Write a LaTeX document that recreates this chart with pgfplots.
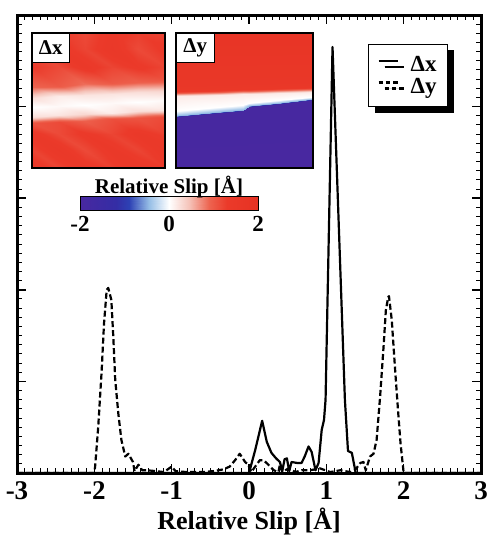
\documentclass[border=0pt]{standalone}
\usepackage{pgfplots}
\pgfplotsset{compat=1.18}
\usepackage{fontspec}
\setmainfont{Liberation Serif}
\usetikzlibrary{shadows}
\pgfplotsset{colormap={slip}{
 rgb255(0pt)=(72,40,160);
 rgb255(80pt)=(52,45,165);
 rgb255(110pt)=(45,65,180);
 rgb255(155pt)=(150,190,230);
 rgb255(200pt)=(255,255,255);
 rgb255(245pt)=(245,195,185);
 rgb255(290pt)=(237,100,80);
 rgb255(330pt)=(235,58,42);
 rgb255(400pt)=(230,50,35)}}
\newcommand{\tickf}{\bfseries\fontsize{27}{30}\selectfont}
\newcommand{\bigf}{\bfseries\fontsize{26}{29}\selectfont}
\newcommand{\legf}{\bfseries\fontsize{23}{25}\selectfont}
\newcommand{\medf}{\bfseries\fontsize{21}{24}\selectfont}
\newcommand{\cbf}{\bfseries\fontsize{23}{25}\selectfont}
\begin{document}
\begin{tikzpicture}
\useasboundingbox (-17pt,-62pt) rectangle (470pt,473pt);
\begin{axis}[
  at={(0pt,0pt)}, anchor=south west,
  scale only axis, width=464pt, height=458pt,
  xmin=-3, xmax=3, ymin=0, ymax=5,
  xtick={-3,-2,-1,0,1,2,3}, xticklabels={-3,-2,-1,0,1,2,3},
  ytick={0,1,2,3,4,5}, yticklabels={},
  minor x tick num=9, minor y tick num=9,
  tick align=inside,
  major tick length=9pt, minor tick length=5pt,
  major tick style={line width=1.5pt, black},
  minor tick style={line width=1pt, black},
  axis line style={line width=3pt},
  tick label style={font=\tickf},
  xticklabel style={yshift=-5pt},
  xlabel={Relative Slip [Å]},
  xlabel style={font=\bigf, yshift=-1pt},
  legend style={at={(0.7565,0.9367)}, anchor=north west, draw=black, line width=1pt,
    fill=white, font=\legf, inner xsep=9pt, inner ysep=10pt,
    drop shadow={shadow xshift=6pt, shadow yshift=-6pt, opacity=1, fill=black},
    nodes={inner xsep=2pt, inner ysep=2pt},
    /tikz/every odd column/.append style={column sep=10pt},
    row sep=1pt},
  legend cell align=left,
  legend image code/.code={\draw[#1] (0pt,4pt) -- (19pt,4pt);},
]
\addplot[black, line width=2.2pt, line join=round] coordinates {
(-3,0) (0.0,0.0) (0.08,0.25) (0.17,0.57) (0.23,0.34) (0.29,0.22) (0.35,0.16)
(0.40,0.12) (0.43,0.02) (0.46,0.15) (0.49,0.16) (0.52,0.02) (0.55,0.12)
(0.62,0.11) (0.68,0.11) (0.72,0.18) (0.77,0.29) (0.81,0.23) (0.86,0.03)
(0.90,0.11) (0.94,0.47) (0.97,0.58) (0.99,0.80) (1.08,4.65) (1.24,0.80)
(1.28,0.24) (1.33,0.22) (1.38,0.0) (3,0)};
\addlegendentry{Δx}
\addplot[black, line width=2.2pt, dash pattern=on 6pt off 3pt, line join=round,
  legend image post style={dash pattern=on 4.5pt off 2.8pt}] coordinates {
(-3,0) (-2.0,0) (-1.99,0.07) (-1.95,0.5) (-1.905,1.12) (-1.875,1.63) (-1.84,2.0)
(-1.82,2.02) (-1.78,1.89) (-1.755,1.49) (-1.73,1.02) (-1.69,0.65) (-1.65,0.36)
(-1.60,0.18) (-1.56,0.21) (-1.50,0.12) (-1.48,0.02) (-1.43,0.09) (-1.38,0.03)
(-1.32,0.03) (-1.2,0.02) (-1.1,0.01) (-1.0,0.07) (-0.95,0.02) (-0.8,0.01)
(-0.6,0.01) (-0.46,0.02) (-0.33,0.04) (-0.25,0.07) (-0.18,0.14) (-0.12,0.21)
(-0.05,0.12) (-0.01,0.09) (0.03,0.01) (0.08,0.07) (0.14,0.14) (0.19,0.14)
(0.25,0.09) (0.32,0.03) (0.38,0.01) (0.40,0.09) (0.43,0.01) (0.51,0.05)
(0.6,0.01) (0.68,0.03) (0.79,0.03) (0.92,0.05) (1.05,0.01) (1.18,0.03)
(1.31,0.01) (1.37,0.03) (1.44,0.11) (1.48,0.12) (1.51,0.03) (1.565,0.18)
(1.61,0.21) (1.65,0.36) (1.695,0.83) (1.74,1.38) (1.77,1.78) (1.80,1.92)
(1.81,1.93) (1.846,1.67) (1.89,1.12) (1.93,0.65) (1.96,0.32) (2.0,0.0) (3,0)};
\addlegendentry{Δy}
\end{axis}
% inset Delta x
\begin{axis}[at={(15pt,305pt)}, anchor=south west, scale only axis,
  width=133pt, height=135pt, xmin=0, xmax=1, ymin=0, ymax=1,
  xtick=\empty, ytick=\empty, axis line style={line width=1.5pt},
  colormap name=slip, point meta min=-2, point meta max=2, axis on top]
\addplot[surf, shader=interp, mesh/cols=6, point meta=explicit] table[x=x, y=y, meta=c] {
x y c
0 0 1.45
0.2 0 1.2
0.4 0 1.4
0.6 0 1.25
0.8 0 1.45
1 0 1.3
0 0.13 1.2
0.2 0.13 1.45
0.4 0.13 1.15
0.6 0.13 1.4
0.8 0.13 1.2
1 0.13 1.45
0 0.25 1.4
0.2 0.25 1.15
0.4 0.25 1.35
0.6 0.25 1.2
0.8 0.25 1.4
1 0.25 1.25
0 0.33 1.05
0.2 0.34 1.15
0.4 0.35 0.95
0.6 0.36 1.1
0.8 0.37 1.05
1 0.38 1.15
0 0.38 0.25
0.2 0.39 0.2
0.4 0.40 0.3
0.6 0.41 0.15
0.8 0.42 0.25
1 0.43 0.2
0 0.45 0.0
0.2 0.46 0.05
0.4 0.47 0.0
0.6 0.48 0.05
0.8 0.49 0.0
1 0.50 0.05
0 0.52 0.25
0.2 0.53 0.15
0.4 0.54 0.2
0.6 0.55 0.2
0.8 0.56 0.25
1 0.57 0.3
0 0.60 0.9
0.2 0.61 1.0
0.4 0.62 0.85
0.6 0.63 1.0
0.8 0.64 0.95
1 0.65 1.05
0 0.75 1.3
0.2 0.75 1.15
0.4 0.75 1.4
0.6 0.75 1.2
0.8 0.75 1.35
1 0.75 1.2
0 0.88 1.15
0.2 0.88 1.4
0.4 0.88 1.2
0.6 0.88 1.45
0.8 0.88 1.15
1 0.88 1.35
0 1 1.4
0.2 1 1.3
0.4 1 1.15
0.6 1 1.4
0.8 1 1.25
1 1 1.2
};
\node[anchor=north west, fill=white, draw=black, line width=0.5pt, font=\medf,
  inner sep=2pt, minimum height=29pt, minimum width=37pt] at (rel axis cs:0,1) {Δx};
\end{axis}
% inset Delta y
\begin{axis}[at={(159pt,305pt)}, anchor=south west, scale only axis,
  width=137pt, height=135pt, xmin=0, xmax=1, ymin=0, ymax=1,
  xtick=\empty, ytick=\empty, axis line style={line width=1.5pt},
  colormap name=slip, point meta min=-2, point meta max=2, axis on top]
\addplot[surf, shader=interp, mesh/cols=6, point meta=explicit] table[x=x, y=y, meta=c] {
x y c
0 0 -2
0.32 0 -2
0.49 0 -2
0.53 0 -2
0.76 0 -2
1 0 -2
0 0.38 -1.95
0.32 0.41 -1.95
0.49 0.425 -1.95
0.53 0.45 -1.95
0.76 0.474 -1.95
1 0.50 -1.95
0 0.388 -0.5
0.32 0.418 -0.5
0.49 0.433 -0.5
0.53 0.458 -0.5
0.76 0.482 -0.5
1 0.508 -0.5
0 0.42 0.0
0.32 0.45 0.0
0.49 0.465 0.0
0.53 0.485 0.0
0.76 0.505 0.0
1 0.525 0.0
0 0.53 0.15
0.32 0.54 0.15
0.49 0.545 0.15
0.53 0.547 0.15
0.76 0.555 0.15
1 0.56 0.15
0 0.573 1.5
0.32 0.58 1.5
0.49 0.585 1.5
0.53 0.587 1.5
0.76 0.595 1.5
1 0.60 1.5
0 1 1.75
0.32 1 1.75
0.49 1 1.75
0.53 1 1.75
0.76 1 1.75
1 1 1.75
};
\node[anchor=north west, fill=white, draw=black, line width=0.5pt, font=\medf,
  inner sep=2pt, minimum height=29pt, minimum width=38pt] at (rel axis cs:0,1) {Δy};
\end{axis}
% colorbar
\begin{axis}[at={(63pt,262pt)}, anchor=south west, scale only axis,
  width=178pt, height=14pt, xmin=-2, xmax=2, ymin=0, ymax=1,
  xtick={-2,0,2}, xticklabels={-2,0,2}, ytick=\empty, major tick length=0pt,
  tick label style={font=\cbf}, xticklabel style={yshift=-2pt},
  axis line style={line width=1pt},
  title={Relative Slip [Å]}, title style={font=\medf, yshift=-11pt},
  colormap name=slip, point meta min=-2, point meta max=2, axis on top]
\addplot[surf, shader=interp, mesh/cols=9, point meta=explicit] table[x=x, y=y, meta=c] {
x y c
-2 0 -2
-1.2 0 -1.2
-0.9 0 -0.9
-0.45 0 -0.45
0 0 0
0.45 0 0.45
0.9 0 0.9
1.3 0 1.3
2 0 2
-2 1 -2
-1.2 1 -1.2
-0.9 1 -0.9
-0.45 1 -0.45
0 1 0
0.45 1 0.45
0.9 1 0.9
1.3 1 1.3
2 1 2
};
\end{axis}
\end{tikzpicture}
\end{document}
